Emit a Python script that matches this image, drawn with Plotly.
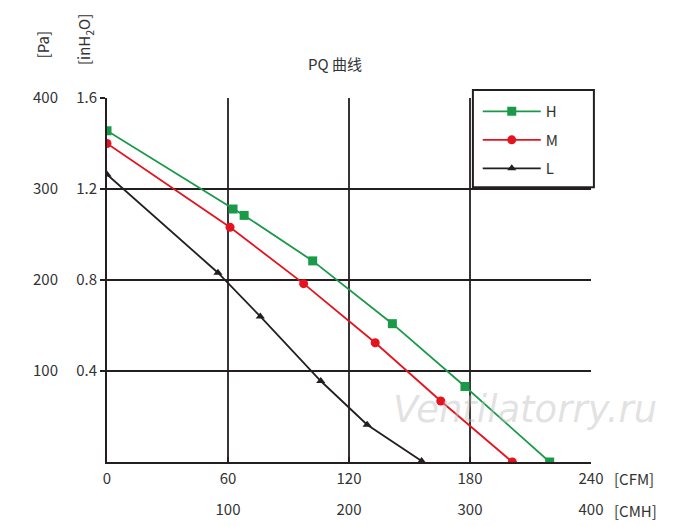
import plotly.graph_objects as go

# air flow [CFM] / static pressure [Pa]
h_cfm = [0, 62.5, 68, 102, 141.5, 177.5, 219.5]
h_pa = [364, 278, 271, 221, 152, 83, 0]
m_cfm = [0, 61, 97.5, 133, 165.5, 201]
m_pa = [350, 258, 196, 131, 67, 0]
l_cfm = [0, 55, 76, 106, 129, 156]
l_pa = [316, 208, 160, 89, 41, 1]

cfm_ticks = [0, 60, 120, 180, 240]
cmh_labels = ["100", "200", "300", "400"]
pa_ticks = [100, 200, 300, 400]
inh2o_labels = ["0.4", "0.8", "1.2", "1.6"]
cfm_grid = [60, 120, 180]
pa_grid = [100, 200, 300]

FONT = "Noto Sans CJK SC"
TXT = "#333333"
INK = "#231f20"

fig = go.Figure()
series = [
    ("H", h_cfm, h_pa, "#1a9a48", "square", 9),
    ("M", m_cfm, m_pa, "#e5131d", "circle", 9),
    ("L", l_cfm, l_pa, "#231f20", "triangle-up", 8),
]
for name, xs, ys, col, sym, sz in series:
    fig.add_trace(go.Scatter(x=xs, y=ys, name=name, legendgroup=name, mode="lines+markers",
                             line=dict(color=col, width=1.8),
                             marker=dict(symbol=sym, size=sz, color=col)))

# invisible copy so the second label axes (CMH / Pa) get drawn
fig.add_trace(go.Scatter(x=h_cfm, y=h_pa, xaxis="x2", yaxis="y2", mode="markers",
                         marker=dict(opacity=0), showlegend=False, hoverinfo="skip"))

# grid
for v in cfm_grid:
    fig.add_vline(x=v, line=dict(color=INK, width=1.8), layer="below")
for v in pa_grid:
    fig.add_hline(y=v, line=dict(color=INK, width=1.8), layer="below")

# legend box
fig.add_shape(type="rect", xref="paper", yref="paper", x0=0.756, x1=1.006, y0=0.755, y1=1.022,
              line=dict(color=INK, width=2), fillcolor="white", layer="below")

tick_font = dict(family=FONT, size=15, color=TXT)
# page body has an 8px margin, so the figure is 8px smaller than the window
fig.update_layout(
    width=692, height=519,
    margin=dict(l=99, r=109, t=90, b=65),
    paper_bgcolor="white", plot_bgcolor="white",
    font=dict(family=FONT, color=TXT),
    xaxis=dict(range=[0, 240], tickvals=cfm_ticks, showgrid=False, zeroline=False,
               showline=True, linecolor=INK, linewidth=2, ticks="inside", ticklen=5,
               tickcolor=INK, tickwidth=2, tickfont=tick_font, automargin=False,
               ticklabelstandoff=2),
    xaxis2=dict(range=[0, 240], overlaying="x", side="bottom", anchor="y",
                tickvals=cfm_ticks[1:], ticktext=cmh_labels, showgrid=False, zeroline=False,
                showline=False, ticks="", ticklabelstandoff=37, tickfont=tick_font,
                automargin=False),
    yaxis=dict(range=[0, 400], tickvals=pa_ticks, ticktext=inh2o_labels, showgrid=False,
               zeroline=False, showline=True, linecolor=INK, linewidth=2, ticks="outside",
               ticklen=5, tickcolor=INK, tickwidth=2, tickfont=tick_font, automargin=False),
    yaxis2=dict(range=[0, 400], overlaying="y", side="left", anchor="x",
                tickvals=pa_ticks, showgrid=False, zeroline=False, showline=False, ticks="",
                ticklabelstandoff=48, tickfont=tick_font, automargin=False),
    showlegend=True,
    legend=dict(x=0.766, y=1.008, xanchor="left", yanchor="top", bgcolor="rgba(0,0,0,0)",
                borderwidth=0, font=dict(family=FONT, size=15, color=TXT),
                tracegroupgap=6, itemwidth=58),
)

ann = [
    dict(text="PQ 曲线", x=0.471, y=1.096, size=15, angle=0, xanchor="center"),
    dict(text="[CFM]", x=1.043, y=-0.044, size=15, angle=0, xanchor="left"),
    dict(text="[CMH]", x=1.043, y=-0.132, size=15, angle=0, xanchor="left"),
    dict(text="[Pa]", x=-0.134, y=1.145, size=15, angle=-90, xanchor="center"),
    dict(text="[inH<sub>2</sub>O]", x=-0.045, y=1.16, size=15, angle=-90, xanchor="center"),
]
for a in ann:
    fig.add_annotation(text=a["text"], xref="paper", yref="paper", x=a["x"], y=a["y"],
                       xanchor=a["xanchor"], yanchor="middle", showarrow=False,
                       textangle=a["angle"], font=dict(family=FONT, size=a["size"], color=TXT))

# watermark
fig.add_annotation(text="<i>Ventilatorry.ru</i>", xref="paper", yref="paper", x=0.864, y=0.143,
                   xanchor="center", yanchor="middle", showarrow=False,
                   font=dict(family="DejaVu Sans", size=37, color="rgba(190,190,190,0.45)"))

fig.write_html("out.html")
